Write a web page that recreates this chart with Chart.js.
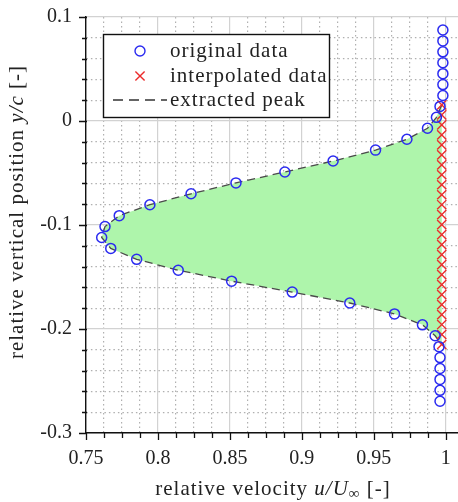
<!DOCTYPE html>
<html>
<head>
<meta charset="utf-8">
<title>Wake peak extraction</title>
<script src="https://cdn.jsdelivr.net/npm/chart.js@4.4.1/dist/chart.umd.min.js"></script>
<style>
  html, body { margin: 0; padding: 0; background: #fff; }
  #wrap { width: 458px; height: 502px; }
</style>
</head>
<body>
<div id="wrap"><canvas id="profile" width="458" height="502"></canvas></div>
<script>
// measured profile: u/U_inf against y/c
const originalU = [0.998, 0.998, 0.998, 0.998, 0.998, 0.998, 0.998, 0.996, 0.9935, 0.9873,
  0.973, 0.9512, 0.9217, 0.8882, 0.8542, 0.823, 0.7944, 0.7731, 0.7632, 0.7609,
  0.7672, 0.7852, 0.8141, 0.8512, 0.8933, 0.9333, 0.9644, 0.9838, 0.9926, 0.9953,
  0.996, 0.996, 0.996, 0.996, 0.996];
const originalY = [0.0875, 0.077, 0.0665, 0.056, 0.0455, 0.035, 0.0245, 0.014, 0.0035, -0.007,
  -0.0175, -0.028, -0.0385, -0.049, -0.0595, -0.07, -0.0805, -0.091, -0.1015, -0.112,
  -0.1225, -0.133, -0.1435, -0.154, -0.1645, -0.175, -0.1855, -0.196, -0.2065, -0.217,
  -0.2275, -0.238, -0.2485, -0.259, -0.2695];

// free-stream values interpolated across the wake
const interpU = [0.9972, 0.9972, 0.9972, 0.9972, 0.9972, 0.9972, 0.9972, 0.9972, 0.9972, 0.9972,
  0.9972, 0.9972, 0.9972, 0.9972, 0.9972, 0.9972, 0.9972, 0.9972, 0.9972, 0.9972,
  0.9972, 0.9972, 0.9972, 0.9972, 0.9972];
const interpY = [0.0155, 0.0059, -0.0037, -0.0133, -0.0229, -0.0325, -0.0421, -0.0517, -0.0613, -0.0709,
  -0.0805, -0.0901, -0.0997, -0.1093, -0.1189, -0.1285, -0.1381, -0.1477, -0.1573, -0.1669,
  -0.1765, -0.1861, -0.1957, -0.2053, -0.2149];

// extracted wake peak (closed against the interpolated line)
const peakU = [0.9972, 0.9935, 0.9873, 0.973, 0.9512, 0.9217, 0.8882, 0.8542, 0.823, 0.7944,
  0.7731, 0.7632, 0.7609, 0.7672, 0.7852, 0.8141, 0.8512, 0.8933, 0.9333, 0.9644,
  0.9838, 0.9926, 0.9972];
const peakY = [0.0155, 0.0035, -0.007, -0.0175, -0.028, -0.0385, -0.049, -0.0595, -0.07, -0.0805,
  -0.091, -0.1015, -0.112, -0.1225, -0.133, -0.1435, -0.154, -0.1645, -0.175, -0.1855,
  -0.196, -0.2065, -0.2149];

const xMajorTicks = [0.75, 0.8, 0.85, 0.9, 0.95, 1];
const yMajorTicks = [-0.3, -0.2, -0.1, 0, 0.1];
const xMinorSplit = 4;
const yMinorSplit = 5;

const legendLabels = ["original data", "interpolated data", "extracted peak"];

const SERIF = '"Liberation Serif", "Times New Roman", serif';
const BLUE = "#2a2af0";
const RED = "#ec2b2b";
const PEAK = "#4a4a4a";
const FILL = "#aef5ab";

function pairs(xs, ys) {
  return xs.map((x, i) => ({ x, y: ys[i] }));
}

// major ticks plus evenly split minor ticks between them
function withMinor(majors, split) {
  const out = [];
  for (let i = 0; i < majors.length - 1; i++) {
    const a = majors[i];
    const b = majors[i + 1];
    for (let k = 0; k < split; k++) {
      out.push({ value: a + (b - a) * k / split, major: k === 0 });
    }
  }
  out.push({ value: majors[majors.length - 1], major: true });
  return out;
}

function gridColor(c) {
  return c.tick && c.tick.major ? "#d2d2d2" : "#b0b0b0";
}
function gridDash(c) {
  return c.tick && !c.tick.major ? [1.5, 3] : [];
}

// outward tick marks, long for majors, short for minors
const tickMarks = {
  id: "tickMarks",
  afterDraw(chart) {
    const { ctx, chartArea } = chart;
    const xs = chart.scales.x;
    const ys = chart.scales.y;
    ctx.save();
    ctx.strokeStyle = "#111";
    ctx.lineWidth = 1.3;
    ctx.beginPath();
    xs.ticks.forEach((t) => {
      const px = Math.round(xs.getPixelForValue(t.value)) + 0.5;
      ctx.moveTo(px, chartArea.bottom - 1);
      ctx.lineTo(px, chartArea.bottom + (t.major ? 7 : 5));
    });
    ys.ticks.forEach((t) => {
      const py = Math.round(ys.getPixelForValue(t.value)) + 0.5;
      ctx.moveTo(chartArea.left + 1, py);
      ctx.lineTo(chartArea.left - (t.major ? 7 : 4), py);
    });
    ctx.stroke();
    ctx.restore();
  },
};

// text runs with italic symbols and a subscript
function richText(ctx, runs, size) {
  const fontFor = (r) => `${r.italic ? "italic " : ""}${r.sub ? Math.round(size * 0.7) : size}px ${SERIF}`;
  let total = 0;
  runs.forEach((r) => {
    ctx.font = fontFor(r);
    r.w = ctx.measureText(r.text).width;
    total += r.w;
  });
  let x = -total / 2;
  runs.forEach((r) => {
    ctx.font = fontFor(r);
    ctx.fillText(r.text, x, r.sub ? size * 0.22 : 0);
    x += r.w;
  });
}

const axisTitles = {
  id: "axisTitles",
  afterDraw(chart) {
    const { ctx } = chart;
    ctx.save();
    ctx.fillStyle = "#222";
    ctx.textBaseline = "middle";
    ctx.textAlign = "left";
    ctx.letterSpacing = "1px";

    ctx.save();
    ctx.translate(273, 489);
    richText(ctx, [
      { text: "relative velocity " },
      { text: "u/U", italic: true },
      { text: "\u221E", sub: true },
      { text: " [-]" },
    ], 21);
    ctx.restore();

    ctx.save();
    ctx.translate(17, 212);
    ctx.rotate(-Math.PI / 2);
    richText(ctx, [
      { text: "relative vertical position " },
      { text: "y/c", italic: true },
      { text: " [-]" },
    ], 21);
    ctx.restore();

    ctx.restore();
  },
};

// framed legend in the upper left of the plot
const legendBox = {
  id: "legendBox",
  afterDraw(chart) {
    const { ctx } = chart;
    const sets = chart.data.datasets;
    const left = 103;
    const top = 34;
    const rows = [51, 76, 100];
    ctx.save();
    ctx.fillStyle = "#fff";
    ctx.fillRect(left, top, 226, 83);
    ctx.strokeStyle = "#111";
    ctx.lineWidth = 1.4;
    ctx.strokeRect(left + 0.5, top + 0.5, 226, 83);

    // circle marker
    ctx.strokeStyle = sets[0].borderColor;
    ctx.fillStyle = "rgba(0,0,0,0)";
    Chart.helpers.drawPoint(ctx, { pointStyle: "circle", radius: 5, borderWidth: 1.5 }, 140, rows[0]);
    // cross marker
    ctx.strokeStyle = sets[1].borderColor;
    Chart.helpers.drawPoint(ctx, { pointStyle: "crossRot", radius: 6.5, borderWidth: 1.4 }, 140, rows[1]);
    // dashed peak line
    ctx.strokeStyle = "#333";
    ctx.lineWidth = 1.4;
    ctx.setLineDash([10, 6]);
    ctx.beginPath();
    ctx.moveTo(113, rows[2]);
    ctx.lineTo(167, rows[2]);
    ctx.stroke();
    ctx.setLineDash([]);

    ctx.fillStyle = "#222";
    ctx.font = `21px ${SERIF}`;
    ctx.letterSpacing = "1px";
    ctx.textBaseline = "middle";
    ctx.textAlign = "left";
    legendLabels.forEach((label, i) => ctx.fillText(label, 170, rows[i]));
    ctx.restore();
  },
};

const tickFont = { family: SERIF, size: 20 };

new Chart(document.getElementById("profile"), {
  type: "scatter",
  data: {
    datasets: [
      {
        label: legendLabels[0],
        data: pairs(originalU, originalY),
        pointStyle: "circle",
        pointRadius: 5,
        pointBorderWidth: 1.5,
        borderColor: BLUE,
        backgroundColor: "rgba(0,0,0,0)",
      },
      {
        label: legendLabels[1],
        data: pairs(interpU, interpY),
        pointStyle: "crossRot",
        pointRadius: 6.5,
        pointBorderWidth: 1.4,
        borderColor: RED,
        backgroundColor: RED,
      },
      {
        label: legendLabels[2],
        data: pairs(peakU, peakY),
        showLine: true,
        fill: "shape",
        backgroundColor: FILL,
        borderColor: PEAK,
        borderWidth: 1.3,
        borderDash: [8, 5],
        pointRadius: 0,
        tension: 0,
      },
    ],
  },
  options: {
    responsive: false,
    animation: false,
    layout: { autoPadding: false, padding: { top: 17, right: 0, left: 0, bottom: 0 } },
    plugins: {
      legend: { display: false },
      tooltip: { enabled: false },
    },
    scales: {
      x: {
        type: "linear",
        min: 0.75,
        max: 1.0085,
        afterBuildTicks: (s) => { s.ticks = withMinor(xMajorTicks, xMinorSplit); },
        afterFit: (s) => {
          s.height = 69;
          s.paddingLeft = 0;
          s.paddingRight = 0;
        },
        ticks: {
          autoSkip: false,
          maxRotation: 0,
          padding: 14,
          color: "#222",
          font: tickFont,
          callback: (v, i, ticks) => (ticks[i].major ? String(+v.toFixed(2)) : ""),
        },
        grid: { drawTicks: false, color: gridColor, lineWidth: 1.2 },
        border: { display: true, color: "#111", width: 1.4, dash: gridDash },
      },
      y: {
        type: "linear",
        min: -0.3,
        max: 0.1,
        afterBuildTicks: (s) => { s.ticks = withMinor(yMajorTicks, yMinorSplit); },
        afterFit: (s) => {
          s.width = 86;
          s.paddingTop = 0;
          s.paddingBottom = 0;
        },
        ticks: {
          autoSkip: false,
          padding: 14,
          color: "#222",
          font: tickFont,
          callback: (v, i, ticks) => (ticks[i].major ? String(+v.toFixed(1)) : ""),
        },
        grid: { drawTicks: false, color: gridColor, lineWidth: 1.2 },
        border: { display: true, color: "#111", width: 1.4, dash: gridDash },
      },
    },
  },
  plugins: [tickMarks, axisTitles, legendBox],
});
</script>
</body>
</html>
